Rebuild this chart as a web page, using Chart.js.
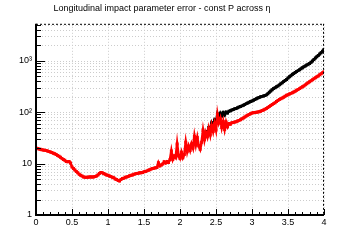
<!DOCTYPE html>
<html lang="en">
<head>
<meta charset="UTF-8">
<title>Longitudinal impact parameter error</title>
<style>
  html, body { margin: 0; padding: 0; background: #fff; }
</style>
</head>
<body>
<canvas id="myChart" width="360" height="240"></canvas>

<script src="https://cdn.jsdelivr.net/npm/chart.js"></script>
<script>
// eta bins of 0.02
const etaStep = 0.02;

// red series, eta 0 .. 4
const redStart = 0;
const redErr = [
  20.0, 19.6, 19.2, 18.9, 18.6, 18.4, 18.2, 18.0, 17.6, 17.2,
  16.8, 16.4, 15.9, 15.5, 15.0, 14.4, 13.8, 13.2, 12.6, 12.0,
  11.6, 11.0, 10.8, 11.0, 10.2, 8.6, 8.0, 7.5, 7.0, 6.6,
  6.2, 5.9, 5.7, 5.5, 5.4, 5.4, 5.4, 5.5, 5.5, 5.5,
  5.5, 5.6, 5.7, 6.0, 6.4, 6.7, 6.6, 6.4, 6.2, 6.0,
  5.9, 5.7, 5.6, 5.4, 5.3, 5.0, 4.9, 4.7, 4.6, 4.9,
  5.1, 5.2, 5.4, 5.5, 5.6, 5.8, 5.9, 6.0, 6.2, 6.3,
  6.4, 6.5, 6.6, 6.6, 6.7, 6.9, 7.0, 7.2, 7.4, 7.6,
  7.8, 8.0, 8.1, 8.3, 8.4, 10.4, 9.0, 9.4, 9.8, 10.8,
  10.2, 11.0, 10.5, 11.8, 17.5, 12.0, 14.0, 13.0, 24.0, 14.0,
  12.5, 16.5, 13.0, 15.0, 26.0, 17.0, 22.0, 18.0, 24.0, 20.0,
  34.0, 23.0, 32.0, 22.0, 19.0, 26.0, 44.0, 29.0, 40.0, 33.0,
  48.0, 36.0, 55.0, 42.0, 60.0, 45.0, 90.0, 62.0, 75.0, 50.0,
  66.0, 46.0, 64.0, 52.0, 60.0, 58.0, 62.0, 63.0, 64.0, 65.0,
  67, 69, 71, 74, 77, 80, 84, 87, 90, 93,
  96, 97, 98, 99, 100, 102, 104, 107, 110, 114,
  118, 123, 128, 134, 140, 146, 152, 160, 168, 175,
  182, 188, 195, 204, 212, 218, 225, 231, 238, 246,
  255, 265, 275, 286, 298, 310, 322, 338, 355, 372,
  390, 407, 425, 445, 465, 485, 505, 530, 555, 580,
  610
];

// black series, eta 2.36 .. 4 (below that it sits under the red one)
const blackStart = 2.36;
const blackErr = [
  42, 36, 50, 45, 62, 55, 70, 64, 92, 80,
  95, 84, 98, 88, 100, 96, 104, 106, 110, 112,
  116, 118, 122, 125, 128, 132, 136, 140, 146, 150,
  155, 160, 165, 170, 175, 182, 188, 193, 198, 202,
  206, 210, 216, 228, 242, 256, 272, 288, 298, 310,
  322, 338, 356, 372, 392, 410, 432, 460, 485, 510,
  540, 565, 590, 615, 640, 665, 695, 730, 760, 790,
  820, 850, 880, 930, 985, 1050, 1120, 1190, 1260, 1340,
  1430, 1530, 1650
];

const xTicks = [0, 0.5, 1, 1.5, 2, 2.5, 3, 3.5, 4];
const yTicks = [1, 10, 100, 1000];
const yLabels = ['1', '10', '10\u00b2', '10\u00b3'];

function toPoints(start, vals) {
  return vals.map((v, i) => ({ x: +(start + i * etaStep).toFixed(2), y: v }));
}

// ROOT style frame: dotted grid, ticks inside, dotted top/right border
const rootFrame = {
  id: 'rootFrame',
  beforeDatasetsDraw(chart) {
    const { ctx, chartArea: a, scales: { x, y } } = chart;
    ctx.save();
    ctx.strokeStyle = '#cccccc';
    ctx.lineWidth = 1;
    ctx.setLineDash([1, 2]);
    ctx.beginPath();
    xTicks.forEach(v => {
      const px = Math.round(x.getPixelForValue(v)) + 0.5;
      ctx.moveTo(px, a.top); ctx.lineTo(px, a.bottom);
    });
    for (let d = 1; d <= 1000; d *= 10) {
      for (let m = 1; m <= 9; m++) {
        const v = d * m;
        if (v > y.max) break;
        const py = Math.round(y.getPixelForValue(v)) + 0.5;
        ctx.moveTo(a.left, py); ctx.lineTo(a.right, py);
      }
    }
    ctx.stroke();
    ctx.restore();
  },
  afterDatasetsDraw(chart) {
    const { ctx, chartArea: a, scales: { x, y } } = chart;
    ctx.save();
    // dotted top and right border
    ctx.strokeStyle = '#000';
    ctx.lineWidth = 1;
    ctx.setLineDash([2, 2]);
    ctx.beginPath();
    ctx.moveTo(a.left, a.top + 0.5); ctx.lineTo(a.right, a.top + 0.5);
    ctx.moveTo(a.right - 0.5, a.top); ctx.lineTo(a.right - 0.5, a.bottom);
    ctx.stroke();
    ctx.setLineDash([]);
    // solid left and bottom axes
    ctx.lineWidth = 2;
    ctx.beginPath();
    ctx.moveTo(a.left, a.top); ctx.lineTo(a.left, a.bottom);
    ctx.lineTo(a.right, a.bottom);
    ctx.stroke();
    // ticks
    ctx.lineWidth = 1;
    ctx.beginPath();
    for (let i = 0; i <= 40; i++) {
      const px = Math.round(x.getPixelForValue(i / 10)) + 0.5;
      const len = (i % 5 === 0) ? 6 : 3;
      ctx.moveTo(px, a.bottom); ctx.lineTo(px, a.bottom - len);
    }
    for (let d = 1; d <= 1000; d *= 10) {
      for (let m = 1; m <= 9; m++) {
        const v = d * m;
        if (v > y.max) break;
        const py = Math.round(y.getPixelForValue(v)) + 0.5;
        const len = (m === 1) ? 9 : 5;
        ctx.moveTo(a.left, py); ctx.lineTo(a.left + len, py);
      }
    }
    ctx.stroke();
    ctx.restore();
  }
};

Chart.defaults.font.family = '"Liberation Sans", Arial, sans-serif';
Chart.defaults.color = '#000';

const ctx = document.getElementById('myChart');

let chart = new Chart(ctx, {
  type: 'scatter',
  data: {
    datasets: [{
      label: 'red',
      data: toPoints(redStart, redErr),
      showLine: true,
      borderColor: '#ff0000',
      backgroundColor: '#ff0000',
      borderWidth: 2.6,
      pointStyle: 'rect',
      pointRadius: 2.1,
      pointBorderWidth: 0
    }, {
      label: 'black',
      data: toPoints(blackStart, blackErr),
      showLine: true,
      borderColor: '#000000',
      backgroundColor: '#000000',
      borderWidth: 2.6,
      pointStyle: 'rect',
      pointRadius: 2.1,
      pointBorderWidth: 0
    }]
  },
  options: {
    responsive: false,
    animation: false,
    layout: { padding: { left: 0, right: 36, top: 0, bottom: 0 } },
    plugins: {
      legend: { display: false },
      tooltip: { enabled: false },
      title: {
        display: true,
        text: 'Longitudinal impact parameter error - const P across \u03b7',
        font: { size: 9, weight: 'normal' },
        padding: { top: 3, bottom: 10 }
      }
    },
    scales: {
      x: {
        type: 'linear',
        min: 0,
        max: 4,
        afterBuildTicks: s => { s.ticks = xTicks.map(v => ({ value: v })); },
        afterFit: s => { s.height = 25; },
        grid: { display: false, drawTicks: false },
        border: { display: false },
        ticks: {
          autoSkip: false,
          maxRotation: 0,
          padding: 2,
          font: { size: 9 },
          callback: v => String(v)
        }
      },
      y: {
        type: 'logarithmic',
        min: 1,
        max: 5200,
        afterBuildTicks: s => { s.ticks = yTicks.map(v => ({ value: v })); },
        afterFit: s => { s.width = 36; },
        grid: { display: false, drawTicks: false },
        border: { display: false },
        ticks: {
          autoSkip: false,
          padding: 4,
          font: { size: 9 },
          callback: v => yLabels[yTicks.indexOf(v)]
        }
      }
    }
  },
  plugins: [rootFrame]
});
</script>
</body>
</html>
